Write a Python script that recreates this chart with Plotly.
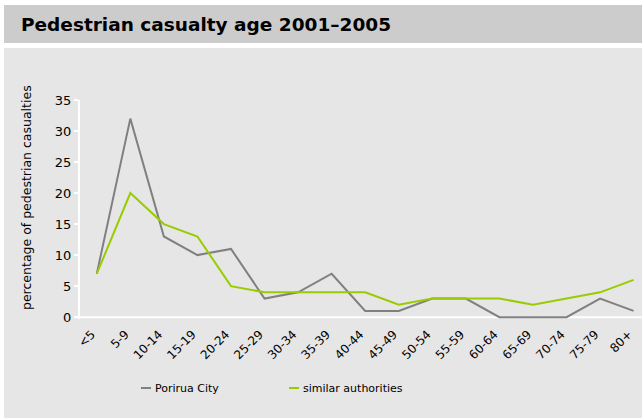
import plotly.graph_objects as go

age_groups = ["<5", "5-9", "10-14", "15-19", "20-24", "25-29", "30-34", "35-39", "40-44",
              "45-49", "50-54", "55-59", "60-64", "65-69", "70-74", "75-79", "80+"]
porirua = [7, 32, 13, 10, 11, 3, 4, 7, 1, 1, 3, 3, 0, 0, 0, 3, 1]
similar = [7, 20, 15, 13, 5, 4, 4, 4, 4, 2, 3, 3, 3, 2, 3, 4, 6]
y_ticks = [0, 5, 10, 15, 20, 25, 30, 35]
series_names = ["Porirua City", "similar authorities"]
series_colors = ["#808080", "#99cc00"]

W, H = 642, 418
L, R, T, B = 80, 0, 100, 99
pw, ph = W - L - R, H - T - B

def px(x):
    return (x - L) / pw

def py(y):
    return (H - B - y) / ph

FONT = "DejaVu Sans, Verdana, sans-serif"

fig = go.Figure()
for name, vals, col in zip(series_names, [porirua, similar], series_colors):
    fig.add_trace(go.Scatter(x=age_groups, y=vals, mode="lines", name=name,
                             line=dict(color=col, width=2)))

shapes = [
    dict(type="rect", xref="paper", yref="paper", x0=px(4), x1=px(643), y0=py(43), y1=py(5),
         fillcolor="#cccccc", line=dict(width=0), layer="below"),
    dict(type="rect", xref="paper", yref="paper", x0=px(4), x1=px(643), y0=py(419), y1=py(48),
         fillcolor="#e6e6e6", line=dict(width=0), layer="below"),
    dict(type="line", xref="paper", yref="y", x0=px(76), x1=1, y0=0, y1=0,
         line=dict(color="white", width=2), layer="below"),
]

annotations = [
    dict(text="<b>Pedestrian casualty age 2001\u20132005</b>", xref="paper", yref="paper",
         x=px(19), y=py(24), xanchor="left", yanchor="middle", showarrow=False,
         font=dict(family=FONT, size=18.5, color="#000000")),
    dict(text="percentage of pedestrian casualties", xref="paper", yref="paper",
         x=px(26), y=py(198), xanchor="center", yanchor="middle", showarrow=False,
         textangle=-90, font=dict(family=FONT, size=12.5, color="#000000")),
]

# legend (short line keys as in the reference)
legend_x = [141, 289]
for lx, name, col in zip(legend_x, series_names, series_colors):
    shapes.append(dict(type="line", xref="paper", yref="paper", x0=px(lx), x1=px(lx + 10),
                       y0=py(388), y1=py(388), line=dict(color=col, width=2)))
    annotations.append(dict(text=name, xref="paper", yref="paper", x=px(lx + 12), y=py(388),
                            xanchor="left", yanchor="middle", showarrow=False,
                            font=dict(family=FONT, size=11, color="#000000")))

fig.update_layout(
    width=W, height=H,
    margin=dict(l=L, r=R, t=T, b=B),
    paper_bgcolor="white",
    plot_bgcolor="rgba(0,0,0,0)",
    font=dict(family=FONT, size=13, color="#000000"),
    shapes=shapes,
    annotations=annotations,
    showlegend=False,
)

fig.update_xaxes(
    type="category", range=[-0.5, 16.25], showgrid=False, zeroline=False,
    showline=False, tickangle=-45, ticks="", tickfont=dict(size=12),
    ticklabelstandoff=5, ticklabelshift=-5,
)
fig.update_yaxes(
    range=[-0.3, 35], tickvals=y_ticks, showgrid=False, zeroline=False,
    showline=True, linecolor="white", linewidth=2, ticks="outside", tickcolor="white",
    ticklen=4, tickwidth=2, tickfont=dict(size=13),
)

fig.write_html("out.html", config={"displayModeBar": False},
               post_script="document.body.style.margin='0';document.body.style.overflow='hidden';")
